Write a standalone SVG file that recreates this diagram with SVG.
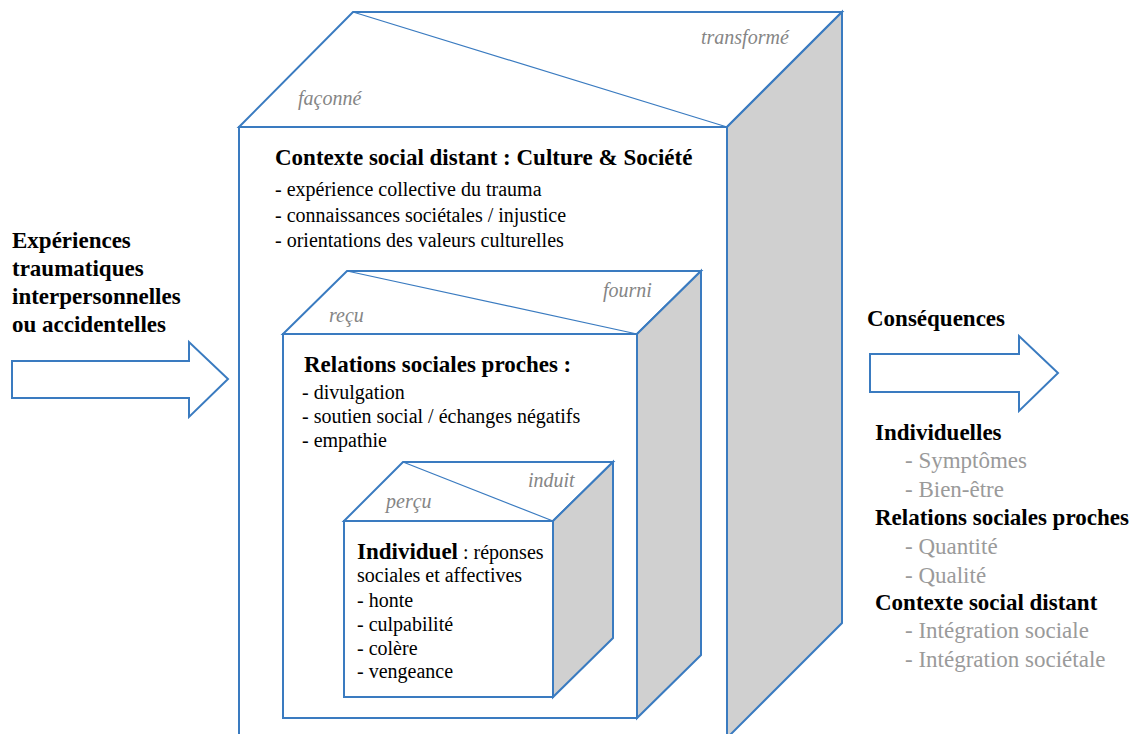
<svg xmlns="http://www.w3.org/2000/svg" width="1141" height="734" viewBox="0 0 1141 734" font-family="Times New Roman, Liberation Serif, Tinos, serif">
<style>
.edge{stroke:#3A7BC0;stroke-width:2}
.face{fill:#ffffff}
.side{fill:#D0D0D0}
.diag{stroke:#3A7BC0;stroke-width:1.2;fill:none}
.b{font-weight:bold;font-size:23px;fill:#000}
.r{font-size:20px;fill:#000}
.lab{font-style:italic;font-size:20px;fill:#858585}
.g{font-size:23px;fill:#9A9A9A}
.arrow{fill:#ffffff;stroke:#3A7BC0;stroke-width:2}
</style>
<rect width="1141" height="734" fill="#ffffff"/>

<g id="outer-cube">
<rect class="face edge" x="239" y="127" width="488" height="640"/>
<polygon class="face edge" points="239,127 353,12 842,12 727,127"/>
<polygon class="side edge" points="727,127 842,12 842,623 727,738"/>
<line class="diag" x1="353" y1="12" x2="727" y2="127"/>
<text class="lab" x="298" y="105">façonné</text>
<text class="lab" x="701" y="44">transformé</text>
<text class="b" x="275" y="165">Contexte social distant : Culture &amp; Société</text>
<text class="r" x="275" y="196">- expérience collective du trauma</text>
<text class="r" x="275" y="222">- connaissances sociétales / injustice</text>
<text class="r" x="275" y="247">- orientations des valeurs culturelles</text>
</g>

<g id="middle-cube">
<rect class="face edge" x="283" y="334" width="354" height="384"/>
<polygon class="face edge" points="283,334 347,271 701,271 637,334"/>
<polygon class="side edge" points="637,334 701,271 701,655 637,718"/>
<line class="diag" x1="347" y1="271" x2="637" y2="334"/>
<text class="lab" x="329" y="322">reçu</text>
<text class="lab" x="603" y="297">fourni</text>
<text class="b" x="304" y="372">Relations sociales proches :</text>
<text class="r" x="302" y="399">- divulgation</text>
<text class="r" x="302" y="423">- soutien social / échanges négatifs</text>
<text class="r" x="302" y="447">- empathie</text>
</g>

<g id="inner-cube">
<rect class="face edge" x="344" y="521" width="209" height="176"/>
<polygon class="face edge" points="344,521 403,462 613,462 553,521"/>
<polygon class="side edge" points="553,521 613,462 613,638 553,697"/>
<line class="diag" x1="403" y1="462" x2="553" y2="521"/>
<text class="lab" x="386" y="508">perçu</text>
<text class="lab" x="528" y="487">induit</text>
<text class="r" x="357" y="559"><tspan class="b">Individuel</tspan> : réponses</text>
<text class="r" x="357" y="582">sociales et affectives</text>
<text class="r" x="357" y="607">- honte</text>
<text class="r" x="357" y="631">- culpabilité</text>
<text class="r" x="357" y="655">- colère</text>
<text class="r" x="357" y="678">- vengeance</text>
</g>

<g id="input">
<text class="b" x="12" y="248">Expériences</text>
<text class="b" x="12" y="276">traumatiques</text>
<text class="b" x="12" y="304">interpersonnelles</text>
<text class="b" x="12" y="332">ou accidentelles</text>
</g>

<g id="output">
<text class="b" x="867" y="326">Conséquences</text>
<text class="b" x="875" y="440">Individuelles</text>
<text class="g" x="905" y="468">- Symptômes</text>
<text class="g" x="905" y="497">- Bien-être</text>
<text class="b" x="875" y="525">Relations sociales proches</text>
<text class="g" x="905" y="554">- Quantité</text>
<text class="g" x="905" y="583">- Qualité</text>
<text class="b" x="875" y="610">Contexte social distant</text>
<text class="g" x="905" y="638">- Intégration sociale</text>
<text class="g" x="905" y="667">- Intégration sociétale</text>
</g>

<g id="connectors">
<polygon class="arrow" points="12,361 189,361 189,342 228,379 189,417 189,398 12,398"/>
<polygon class="arrow" points="870,354 1019,354 1019,336 1058,373 1019,411 1019,392 870,392"/>
</g>
</svg>
